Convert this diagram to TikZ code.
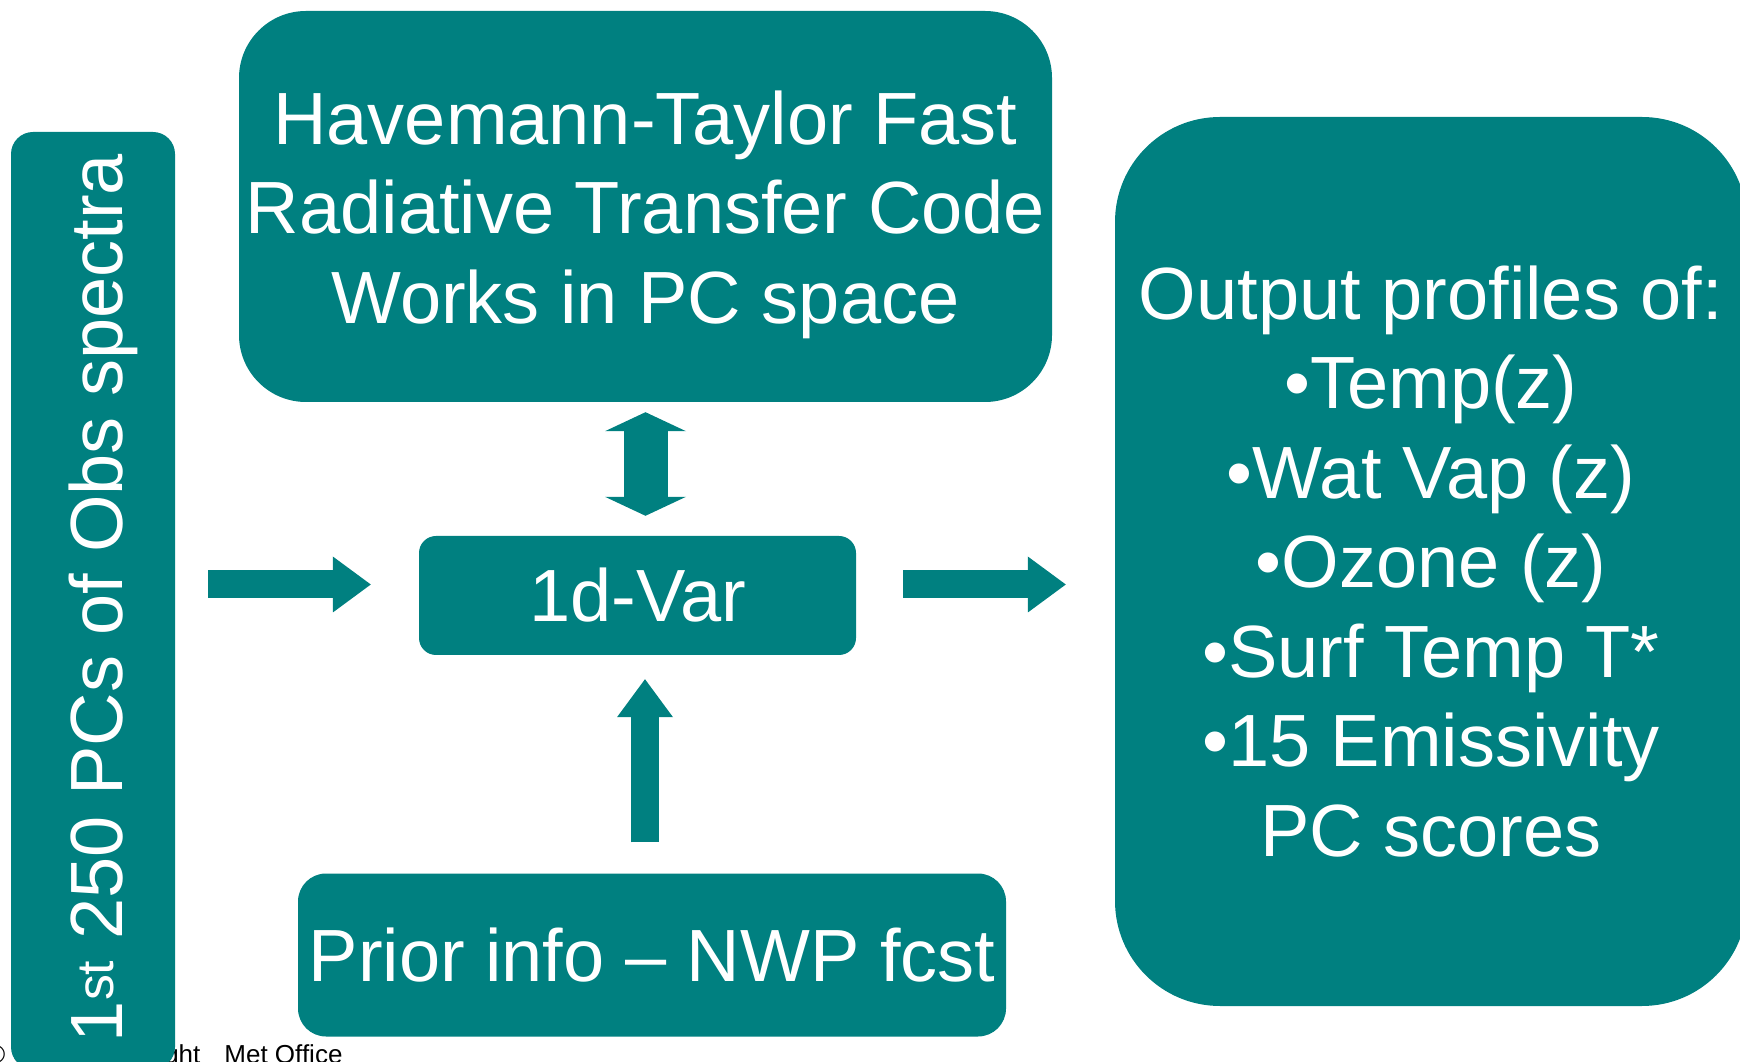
\documentclass[tikz,border=0pt]{standalone}
\usepackage{fontspec}
\setmainfont{Liberation Sans}
\usepackage{tikz}
\usetikzlibrary{arrows.meta, positioning, calc}
\definecolor{pcteal}{RGB}{0,128,128}
\newcommand{\boxfont}{\fontsize{74}{89.5}\selectfont}
\tikzstyle{panel} = [rectangle, fill=pcteal, text=white, inner sep=0pt, align=center, font=\boxfont]
\tikzstyle{boxtext} = [text=white, inner sep=0pt, align=center, font=\boxfont]
\tikzstyle{fatarrow} = [pcteal, line width=28pt, -{Triangle[length=38pt, width=56pt, line width=0pt]}]
\tikzstyle{fatdouble} = [pcteal, line width=44pt, {Triangle[length=19pt, width=81pt, line width=0pt]}-{Triangle[length=19pt, width=81pt, line width=0pt]}]

\begin{document}
\begin{tikzpicture}[x=1pt, y=1pt, node distance=389pt]
\useasboundingbox (0,0) rectangle (1740,1061);

% footer sits behind the left box
\node (footer) [anchor=base east, font=\fontsize{26}{31}\selectfont] at (346,-2) {© Crown copyright\hspace{24pt}Met Office};

\node (hotcode) [panel, minimum width=813pt, minimum height=391pt, rounded corners=67pt] at (645.5,854.5) {};
\node (hotcodetext) [boxtext, yshift=-8.25pt] at (hotcode.center) {Havemann-Taylor Fast\\Radiative Transfer Code\\Works in PC space};
\node (var) [panel, below of=hotcode, xshift=-8pt, minimum width=437pt, minimum height=119pt, rounded corners=17pt] {1d-Var};
\node (prior) [panel, below of=var, xshift=14.5pt, yshift=29.5pt, minimum width=708pt, minimum height=163pt, rounded corners=28pt] {Prior info – NWP fcst};
\node (leftbox) [panel, left of=var, xshift=-155.5pt, yshift=-5pt, minimum width=164pt, minimum height=937pt, rounded corners=22pt] {};
\node (lefttext) [boxtext, rotate=90] at ($(leftbox.center)+(9.95,2.5)$) {1\textsuperscript{st} 250 PCs of Obs spectra};
\node (rightbox) [panel, right of=var, xshift=404.5pt, yshift=34pt, minimum width=632pt, minimum height=889pt, rounded corners=105pt] {Output profiles of:\\•Temp(z)\\•Wat Vap (z)\\•Ozone (z)\\•Surf Temp T*\\•15 Emissivity\\PC scores};

\draw[fatarrow, shorten <=33pt, shorten >=48pt] ($(leftbox.east |- var.west)+(0,11)$) -- ($(var.west)+(0,11)$);
\draw[fatarrow, shorten <=47pt, shorten >=49pt] ($(var.east)+(0,11)$) -- ($(rightbox.west |- var.east)+(0,11)$);
\draw[fatdouble, shorten <=10pt, shorten >=20pt] (hotcode.south) -- (hotcode.south |- var.north);
\draw[fatarrow, shorten <=31pt, shorten >=24pt] ($(prior.north)+(-7,0)$) -- ($(prior.north |- var.south)+(-7,0)$);

\end{tikzpicture}
\end{document}
